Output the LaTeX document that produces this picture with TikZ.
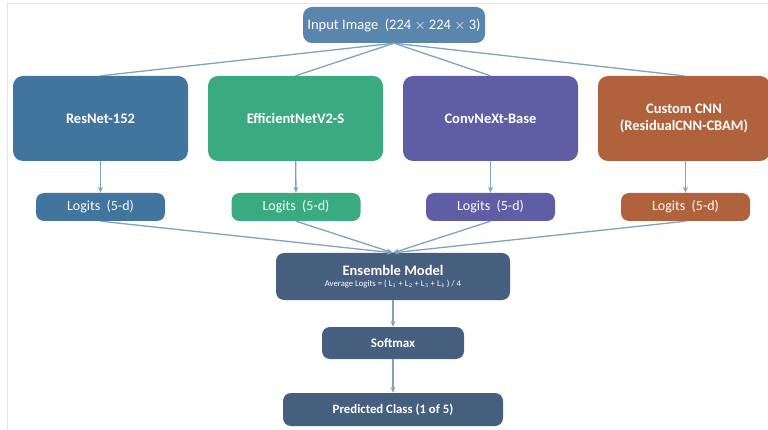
\documentclass[tikz,border=0pt]{standalone}
\usepackage{fontspec}
\setmainfont{Carlito}
\usetikzlibrary{arrows.meta}
\definecolor{inputc}{HTML}{5A86AD}
\definecolor{resnetc}{HTML}{41759E}
\definecolor{effc}{HTML}{3AAA80}
\definecolor{convc}{HTML}{5F5EA5}
\definecolor{customc}{HTML}{AF623B}
\definecolor{ensc}{HTML}{475F7E}
\definecolor{linec}{HTML}{7FA2BD}
\tikzset{
  modelbox/.style={rounded corners=10pt,minimum width=175pt,minimum height=85pt,inner sep=0pt,text=white,font=\fontsize{14.5}{17}\selectfont\bfseries,align=center},
  logitbox/.style={rounded corners=8pt,minimum width=129pt,minimum height=28pt,inner sep=0pt,text=white,font=\fontsize{14}{16}\selectfont},
  flowbox/.style={rounded corners=8pt,fill=ensc,inner sep=0pt,text=white,align=center},
  link/.style={linec,line width=1.3pt},
  arr/.style={link,-{Stealth[length=6pt,width=5pt]}}
}
\begin{document}
\begin{tikzpicture}[x=1pt,y=-1pt]
  \useasboundingbox (0,0) rectangle (768,430);
  \draw [black!10,line width=1pt] (7.5,430) -- (7.5,3.5) -- (768,3.5);
  % input
  \node (inp) at (394,25) [rounded corners=9pt,fill=inputc,minimum width=182pt,minimum height=36pt,inner sep=0pt,text=white,font=\fontsize{14.5}{16}\selectfont] {Input Image\ \ (224 $\times$ 224 $\times$ 3)};
  % backbones
  \node (res) at (100.5,118.5) [modelbox,fill=resnetc] {ResNet-152};
  \node (eff) at (295.5,118.5) [modelbox,fill=effc] {EfficientNetV2-S};
  \node (conv) at (490.5,118.5) [modelbox,fill=convc] {ConvNeXt-Base};
  \node (cust) at (684,118.5) [modelbox,minimum width=172pt,fill=customc] {Custom CNN\\(ResidualCNN-CBAM)};
  % logits
  \node (lres) at (100.5,207) [logitbox,fill=resnetc] {Logits\ \ (5-d)};
  \node (leff) at (296,207) [logitbox,fill=effc] {Logits\ \ (5-d)};
  \node (lconv) at (490.5,207) [logitbox,fill=convc] {Logits\ \ (5-d)};
  \node (lcust) at (685.5,207) [logitbox,fill=customc] {Logits\ \ (5-d)};
  % ensemble and output
  \node (ens) at (393,276.5) [flowbox,minimum width=234pt,minimum height=47pt] {{\fontsize{14.5}{16}\selectfont\bfseries Ensemble Model}\\[-1pt]{\fontsize{8.7}{10}\selectfont Average Logits = ( L$_1$ + L$_2$ + L$_3$ + L$_4$ ) / 4}};
  \node (soft) at (393,343) [flowbox,minimum width=142pt,minimum height=32pt,font=\fontsize{13}{15}\selectfont\bfseries] {Softmax};
  \node (pred) at (393,409.5) [flowbox,minimum width=220pt,minimum height=33pt,font=\fontsize{12.8}{15}\selectfont\bfseries] {Predicted Class (1 of 5)};
  % connectors
  \foreach \m in {res,eff,conv,cust}
    \draw [link] (inp.south) -- (\m.north);
  \draw [arr] (res) -- (lres);
  \draw [arr] (eff) -- (leff);
  \draw [arr] (conv) -- (lconv);
  \draw [arr] (cust.south -| lcust) -- (lcust);
  \foreach \l in {lres,leff,lconv,lcust}
    \draw [arr] (\l.south) -- (ens.north);
  \draw [arr] (ens) -- (soft);
  \draw [arr] (soft) -- (pred);
\end{tikzpicture}
\end{document}
